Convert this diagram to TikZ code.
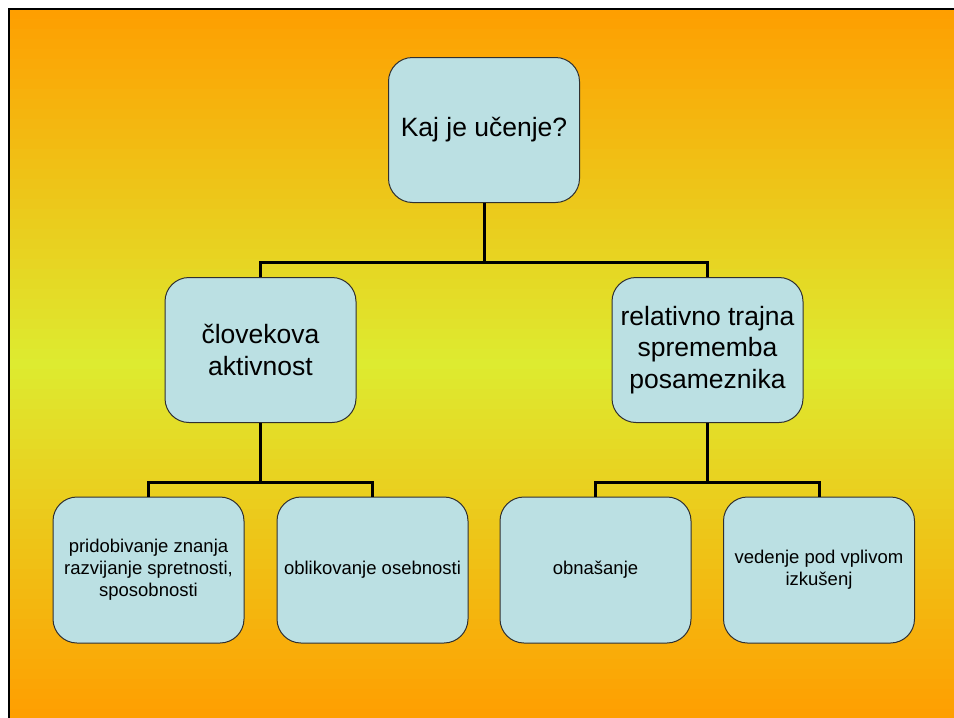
\documentclass[tikz,border=0pt]{standalone}
\usepackage{fontspec}
\setmainfont{Liberation Sans}
\usepackage{xcolor}
\usetikzlibrary{positioning,calc}
\definecolor{boxfill}{HTML}{BBE0E3}
\definecolor{boxline}{HTML}{303030}
\definecolor{bgorange}{HTML}{FF9E00}
\definecolor{bgyellow}{HTML}{DDEB30}

\begin{document}
\begin{tikzpicture}[x=1pt, y=-1pt,
    box/.style={draw=boxline, line width=1pt, fill=boxfill, rounded corners=24pt,
        align=center, inner sep=2pt},
    bigbox/.style={box, minimum width=191pt, minimum height=145pt,
        font=\fontsize{26.5}{31.5}\selectfont},
    smallbox/.style={box, minimum width=191pt, minimum height=146pt,
        font=\fontsize{18.5}{22}\selectfont},
    link/.style={line width=3pt}]
    \useasboundingbox (0,0) rectangle (954,718);

    % Background
    \foreach \i in {0,...,71} {
        \pgfmathsetmacro{\ytop}{9+10*\i}
        \pgfmathsetmacro{\mix}{max(0,100-abs(\ytop+5-363)/355*100)}
        \fill[bgyellow!\mix!bgorange] (9,\ytop) rectangle (962,\ytop+11);
    }
    \draw[line width=2pt] (9,726) -- (9,9) -- (962,9);

    % Root
    \node[bigbox] (root) at (484,130) {Kaj je učenje?};

    % Level 1
    \node[bigbox] (act) at (260.5,350) {človekova\\aktivnost};
    \node[bigbox] (chg) at (707.5,350) {relativno trajna\\sprememba\\posameznika};

    % Level 2
    \node[smallbox] (know) at (148.5,570) {pridobivanje znanja\\razvijanje spretnosti,\\sposobnosti};
    \node[smallbox] (pers) at (372.5,570) {oblikovanje osebnosti};
    \node[smallbox] (beh)  at (595.5,570) {obnašanje};
    \node[smallbox] (exp)  at (819,570) {vedenje pod vplivom\\izkušenj};

    % Bus points
    \coordinate (bus0) at (484,262);
    \coordinate (bus1) at (260.5,482);
    \coordinate (bus2) at (707.5,482);

    % Connectors
    \draw[link] (root.south) -- (bus0);
    \draw[link] (act.north) |- (bus0) -| (chg.north);
    \draw[link] (act.south) -- (bus1);
    \draw[link] (know.north) |- (bus1) -| (pers.north);
    \draw[link] (chg.south) -- (bus2);
    \draw[link] (beh.north) |- (bus2) -| (exp.north);
\end{tikzpicture}
\end{document}
